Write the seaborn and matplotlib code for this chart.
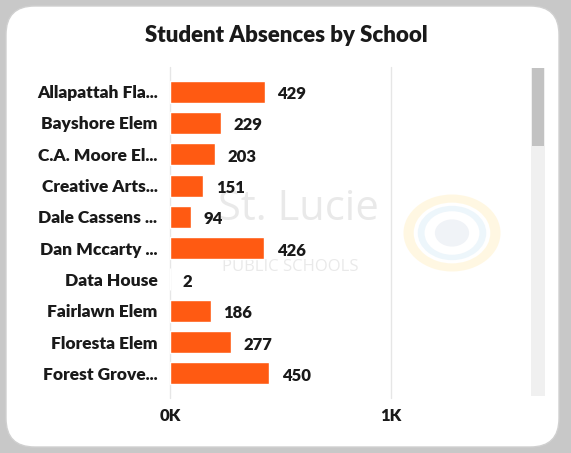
import matplotlib
matplotlib.use("Agg")
import matplotlib.pyplot as plt
import seaborn as sns
import pandas as pd
from matplotlib.patches import FancyBboxPatch, Rectangle, Circle, Wedge

schools = ["Allapattah Fla...", "Bayshore Elem", "C.A. Moore El...", "Creative Arts...",
           "Dale Cassens ...", "Dan Mccarty ...", "Data House", "Fairlawn Elem",
           "Floresta Elem", "Forest Grove..."]
absences = [429, 229, 203, 151, 94, 426, 2, 186, 277, 450]
tick_vals = [0, 1000]
tick_labels = ["0K", "1K"]

df = pd.DataFrame({"School": schools, "Absences": absences})

sns.set_theme(style="white")
plt.rcParams["font.family"] = ["Lato", "DejaVu Sans"]
WEIGHT = "heavy"

W, H = 571, 453
fig = plt.figure(figsize=(W / 100, H / 100), dpi=100)
fig.patch.set_facecolor("#c8c8c8")

card = FancyBboxPatch((6 / W, 6 / H), (559 - 6) / W, (447 - 6) / H,
                      boxstyle="round,pad=0,rounding_size=0.05",
                      transform=fig.transFigure, facecolor="white",
                      edgecolor="#d0d0d0", linewidth=1, zorder=-5,
                      mutation_aspect=W / H)
fig.patches.append(card)

# faint watermark
fig.text(298 / W, 1 - 209 / H, "St. Lucie", ha="center", va="center", fontsize=30,
         color="#d4d4d4", alpha=0.5, zorder=-4, family="Open Sans")
fig.text(290 / W, 1 - 267 / H, "PUBLIC SCHOOLS", ha="center", va="center", fontsize=12,
         color="#d4d4d4", alpha=0.5, zorder=-4, family="Open Sans")
cx, cy = 452 / W, 1 - 233 / H
for r, col, w in [(0.085, "#fff3d0", 0.018), (0.06, "#e2f0f9", 0.012)]:
    fig.patches.append(Wedge((cx, cy), r, 0, 360, width=w, transform=fig.transFigure,
                             facecolor=col, edgecolor="none", alpha=0.6, zorder=-4))
fig.patches.append(Circle((cx, cy), 0.03, transform=fig.transFigure,
                          facecolor="#eaeef4", edgecolor="none", alpha=0.7, zorder=-4))

# axes
left, right, top, bottom = 170, 516, 76, 389
ax = fig.add_axes([left / W, 1 - bottom / H, (right - left) / W, (bottom - top) / H])
ax.set_facecolor("none")
ax.set_zorder(3)

sns.barplot(data=df, x="Absences", y="School", ax=ax, color="#ff5a12",
            saturation=1, width=0.7, orient="h")

xmax = 1000 * (right - left) / (391 - 170)
ax.set_xlim(0, xmax)
ax.set_ylim(len(schools) - 0.5, -0.5)
ax.set_xticks(tick_vals)
ax.set_xticklabels(tick_labels, fontsize=12, fontweight=WEIGHT, color="#1a1a1a")
ax.set_xlabel("")
ax.set_ylabel("")
ax.tick_params(axis="y", labelsize=12.5, length=0, pad=9)
ax.tick_params(axis="x", length=0, pad=14)
for lbl in ax.get_yticklabels():
    lbl.set_fontweight(WEIGHT)
    lbl.set_color("#1a1a1a")
for s in ax.spines.values():
    s.set_visible(False)
for v in tick_vals:
    ax.axvline(v, color="#e6e6e6", lw=1, zorder=0, ymin=-0.03, ymax=1.03, clip_on=False)

for i, v in enumerate(absences):
    ax.annotate(str(v), (v, i + 0.08), xytext=(9, 0), textcoords="offset points",
                va="center", ha="left", fontsize=12, fontweight=WEIGHT, color="#1a1a1a")

fig.text(286 / W, 1 - 36 / H, "Student Absences by School", ha="center", va="center",
         fontsize=16, fontweight=WEIGHT, color="#1a1a1a")

# scrollbar
fig.patches.append(Rectangle((531 / W, 1 - 396 / H), 14 / W, (396 - 68) / H,
                             transform=fig.transFigure, facecolor="#f0f0f0",
                             edgecolor="none", zorder=1))
fig.patches.append(Rectangle((532 / W, 1 - 146 / H), 12 / W, (146 - 68) / H,
                             transform=fig.transFigure, facecolor="#c2c2c2",
                             edgecolor="none", zorder=2))

fig.savefig("out.png", dpi=100, facecolor=fig.get_facecolor())
